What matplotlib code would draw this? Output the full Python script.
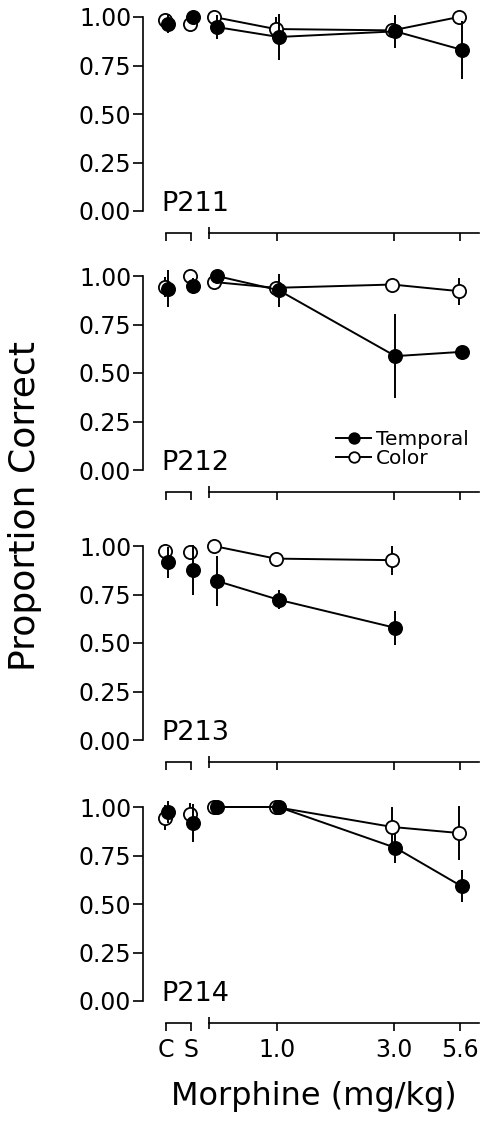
import numpy as np
import matplotlib
matplotlib.use('Agg')
import matplotlib.pyplot as plt
import matplotlib.transforms as mtransforms
from matplotlib.ticker import FixedLocator, NullFormatter, NullLocator

plt.rcParams['font.family'] = ['DejaVu Sans']

# ---------------- data ----------------
subjects = ['P211', 'P212', 'P213', 'P214']
control_labels = ['C', 'S']
doses = [0.56, 1.0, 3.0, 5.6]
dose_tick_values = [1.0, 3.0, 5.6]
dose_tick_labels = ['1.0', '3.0', '5.6']
y_ticks = [0.0, 0.25, 0.50, 0.75, 1.00]

# P211
p211_temporal_cs = [0.965, 1.0]
p211_temporal_cs_err = [0.05, 0.0]
p211_color_cs = [0.983, 0.966]
p211_color_cs_err = [0.03, 0.0]
p211_temporal = [0.948, 0.897, 0.926, 0.831]
p211_temporal_err = [0.06, 0.12, 0.085, 0.15]
p211_color = [1.0, 0.938, 0.931, 1.0]
p211_color_err = [0.0, 0.06, 0.03, 0.0]

# P212
p212_temporal_cs = [0.935, 0.949]
p212_temporal_cs_err = [0.095, 0.04]
p212_color_cs = [0.944, 1.0]
p212_color_cs_err = [0.05, 0.0]
p212_temporal = [1.0, 0.927, 0.587, 0.609]
p212_temporal_err = [0.0, 0.085, 0.217, 0.0]
p212_color = [0.969, 0.939, 0.956, 0.922]
p212_color_err = [0.0, 0.03, 0.0, 0.07]

# P213
p213_temporal_cs = [0.915, 0.876]
p213_temporal_cs_err = [0.08, 0.13]
p213_color_cs = [0.973, 0.969]
p213_color_cs_err = [0.0, 0.0]
p213_temporal = [0.82, 0.723, 0.578, np.nan]
p213_temporal_err = [0.128, 0.05, 0.088, np.nan]
p213_color = [1.0, 0.935, 0.927, np.nan]
p213_color_err = [0.0, 0.0, 0.075, np.nan]

# P214
p214_temporal_cs = [0.974, 0.918]
p214_temporal_cs_err = [0.057, 0.098]
p214_color_cs = [0.945, 0.966]
p214_color_cs_err = [0.065, 0.055]
p214_temporal = [1.0, 1.0, 0.79, 0.591]
p214_temporal_err = [0.0, 0.0, 0.077, 0.083]
p214_color = [1.0, 1.0, 0.897, 0.866]
p214_color_err = [0.0, 0.0, 0.103, 0.137]

panel_data = {
    'P211': (p211_temporal_cs, p211_temporal_cs_err, p211_color_cs, p211_color_cs_err,
             p211_temporal, p211_temporal_err, p211_color, p211_color_err),
    'P212': (p212_temporal_cs, p212_temporal_cs_err, p212_color_cs, p212_color_cs_err,
             p212_temporal, p212_temporal_err, p212_color, p212_color_err),
    'P213': (p213_temporal_cs, p213_temporal_cs_err, p213_color_cs, p213_color_cs_err,
             p213_temporal, p213_temporal_err, p213_color, p213_color_err),
    'P214': (p214_temporal_cs, p214_temporal_cs_err, p214_color_cs, p214_color_cs_err,
             p214_temporal, p214_temporal_err, p214_color, p214_color_err),
}

# ---------------- layout ----------------
W, H = 487, 1134
fig = plt.figure(figsize=(W / 100, H / 100), dpi=100)

zero_px = [211, 470, 740, 1001]   # pixel row of y = 0 in each panel
unit_px = 194                      # pixels per 1.0 of proportion
ylo, yhi = -0.113, 1.06

TICK_FS = 17
MS = 9.5
LW = 1.4


def add_series(ax, x, y, err, filled, dx, connect):
    tr = mtransforms.offset_copy(ax.transData, fig=fig, x=dx, y=0, units='dots')
    y = np.asarray(y, float)
    err = np.asarray(err, float)
    ok = ~np.isnan(y)
    xa = np.asarray(x, float)[ok]
    ax.vlines(xa, (y - err)[ok], (y + err)[ok], colors='black', linewidth=1.4,
              transform=tr, zorder=4 if filled else 1)
    style = '-o' if connect else 'o'
    line, = ax.plot(xa, y[ok], style, color='black', linewidth=LW, markersize=MS,
                    markerfacecolor='black' if filled else 'white',
                    markeredgecolor='black', markeredgewidth=1.3,
                    transform=tr, zorder=5 if filled else 3, clip_on=False)
    return line


handles = None
for i, subj in enumerate(subjects):
    y0 = zero_px[i]
    ax_h = (yhi - ylo) * unit_px
    bottom = 1 - (y0 - ylo * unit_px) / H
    height = ax_h / H

    axL = fig.add_axes([143 / W, bottom, 58 / W, height])
    axM = fig.add_axes([205 / W, bottom, 277 / W, height])

    (t_cs, t_cs_e, c_cs, c_cs_e, t_d, t_d_e, c_d, c_d_e) = panel_data[subj]
    xcs = np.arange(len(control_labels))

    add_series(axL, xcs, c_cs, c_cs_e, False, -1.5, False)
    add_series(axL, xcs, t_cs, t_cs_e, True, 1.5, False)
    hc = add_series(axM, doses, c_d, c_d_e, False, -1.5, True)
    ht = add_series(axM, doses, t_d, t_d_e, True, 1.5, True)
    if i == 1:
        handles = (ht, hc, axM)

    # left (control) axes
    axL.set_xlim(-0.92, 1.4)
    axL.set_ylim(ylo, yhi)
    for s in ['top', 'right']:
        axL.spines[s].set_visible(False)
    axL.spines['left'].set_bounds(0, 1)
    axL.spines['bottom'].set_bounds(0, 1)
    for s in ['left', 'bottom']:
        axL.spines[s].set_linewidth(1.2)
    axL.set_yticks(y_ticks)
    axL.set_yticklabels([f'{v:.2f}' for v in y_ticks])
    axL.set_xticks(xcs)
    if i == len(subjects) - 1:
        axL.set_xticklabels(control_labels)
    else:
        axL.set_xticklabels([])
    axL.tick_params(axis='y', direction='out', length=7, width=1.2, pad=1.5,
                    labelsize=TICK_FS)
    axL.tick_params(axis='x', direction='out', length=6, width=1.2, pad=5,
                    labelsize=TICK_FS)
    axL.patch.set_visible(False)

    # main (dose) axes
    axM.set_xscale('log')
    axM.set_xlim(0.508, 6.87)
    axM.set_ylim(ylo, yhi)
    for s in ['top', 'right', 'left']:
        axM.spines[s].set_visible(False)
    axM.spines['bottom'].set_bounds(0.525, 6.65)
    axM.spines['bottom'].set_linewidth(1.2)
    axM.yaxis.set_major_locator(NullLocator())
    axM.xaxis.set_major_locator(FixedLocator(dose_tick_values))
    axM.xaxis.set_minor_locator(FixedLocator([0.525]))
    axM.xaxis.set_minor_formatter(NullFormatter())
    if i == len(subjects) - 1:
        axM.set_xticklabels(dose_tick_labels)
    else:
        axM.set_xticklabels([])
    axM.tick_params(axis='x', which='major', direction='out', length=6, width=1.2,
                    pad=5, labelsize=TICK_FS)
    axM.tick_params(axis='x', which='minor', direction='inout', length=9, width=1.2)
    axM.patch.set_visible(False)

    axL.text(-0.18, 0.0, subj, fontsize=19.5, ha='left', va='baseline',
             clip_on=False)

ht, hc, axm2 = handles
axm2.legend([ht, hc], ['Temporal', 'Color'], loc='upper left',
            bbox_to_anchor=(336 / W, 1 - 430 / H), bbox_transform=fig.transFigure,
            frameon=False, fontsize=14.5, handlelength=1.75, handletextpad=0.25,
            labelspacing=0.0, borderpad=0, borderaxespad=0, markerscale=0.8)

fig.text(25 / W, 1 - 506 / H, 'Proportion Correct', rotation=90, fontsize=26,
         ha='center', va='center')
fig.text(314 / W, 1 - 1105 / H, 'Morphine (mg/kg)', fontsize=23,
         ha='center', va='baseline')

fig.savefig('out.png', dpi=100)
